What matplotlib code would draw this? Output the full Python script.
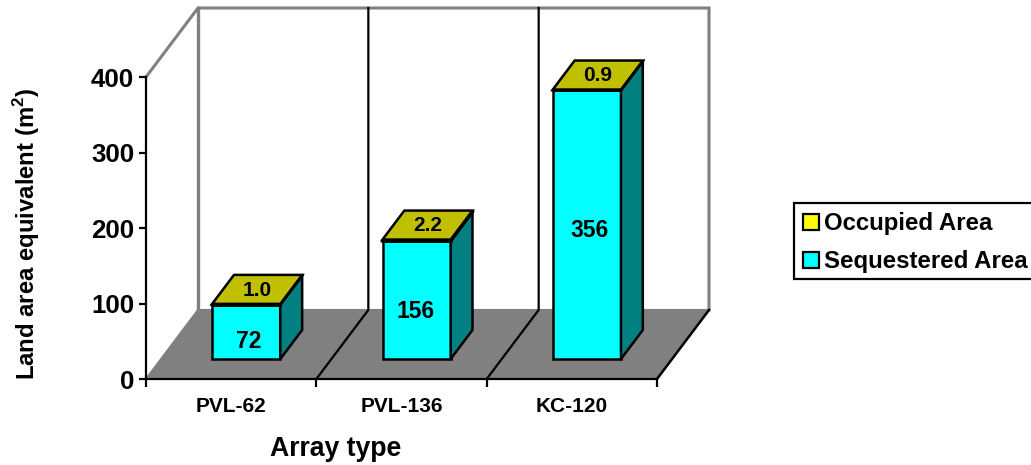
import matplotlib
matplotlib.use("Agg")
import matplotlib.pyplot as plt
from matplotlib.patches import Polygon, Patch, Rectangle

plt.rcParams['font.family'] = ['Liberation Sans', 'DejaVu Sans']
plt.rcParams['font.weight'] = 'bold'
plt.rcParams['mathtext.fontset'] = 'custom'
plt.rcParams['mathtext.bf'] = 'Liberation Sans:bold'
plt.rcParams['mathtext.rm'] = 'Liberation Sans:bold'

# Data
arrays = ['PVL-62', 'PVL-136', 'KC-120']
sequestered = [72, 156, 356]
occupied = [1.0, 2.2, 0.9]
yticks = [0, 100, 200, 300, 400]

# Oblique projection: one unit of depth moves this far in data units
DEPTH_X = 52 / 170.33
DEPTH_Y = 69 / (302 / 400)
BAR_W = 0.40
BAR_D0, BAR_D1 = 0.29, 0.71

GREY = '#808080'
CYAN, CYAN_SIDE = '#00FFFF', '#008080'
YELLOW, YELLOW_TOP, YELLOW_SIDE = '#FFFF00', '#C0C000', '#808000'


def proj(x, y, d):
    return (x + d * DEPTH_X, y + d * DEPTH_Y)


def face(ax, pts, fc, ec='black', lw=1.8, z=3):
    ax.add_patch(Polygon(pts, closed=True, fc=fc, ec=ec, lw=lw, zorder=z,
                         clip_on=False, joinstyle='miter'))


def box(ax, x0, x1, y0, y1, front, top, side, z):
    d0, d1 = BAR_D0, BAR_D1
    # the front corner sits at depth d0, so shift x by that depth via proj
    face(ax, [proj(x0, y0, d0), proj(x1, y0, d0), proj(x1, y1, d0), proj(x0, y1, d0)], front, z=z)
    face(ax, [proj(x1, y0, d0), proj(x1, y0, d1), proj(x1, y1, d1), proj(x1, y1, d0)], side, z=z)
    face(ax, [proj(x0, y1, d0), proj(x1, y1, d0), proj(x1, y1, d1), proj(x0, y1, d1)], top, z=z)


fig = plt.figure(figsize=(10.31, 4.65), dpi=100, facecolor='white')
ax = fig.add_axes([146 / 1031, (465 - 379) / 465, 511 / 1031, 302 / 465])
ax.set_xlim(0, 3)
ax.set_ylim(0, 400)
ax.patch.set_visible(False)

n = len(arrays)

# Floor and walls
face(ax, [proj(0, 0, 0), proj(n, 0, 0), proj(n, 0, 1), proj(0, 0, 1)], GREY, ec='none', z=1)
ax.plot(*zip(proj(0, 0, 0), proj(0, 0, 1), proj(n, 0, 1)), color=GREY, lw=1.5, zorder=1.5, clip_on=False)
ax.plot(*zip(proj(0, 400, 0), proj(0, 400, 1), proj(n, 400, 1), proj(n, 0, 1)),
        color=GREY, lw=2.2, zorder=1.5, clip_on=False, solid_joinstyle='miter')
ax.plot(*zip(proj(0, 0, 1), proj(0, 400, 1)), color=GREY, lw=2.4, zorder=1.5, clip_on=False)
ax.plot(*zip(proj(n, 0, 0), proj(n, 0, 1)), color='black', lw=1.8, zorder=1.6, clip_on=False)

# Category dividers on the floor and the back wall
for i in range(1, n):
    ax.plot(*zip(proj(i, 0, 0), proj(i, 0, 1), proj(i, 400, 1)), color='black', lw=1.6,
            zorder=1.6, clip_on=False, solid_joinstyle='miter')

# Bars, with the occupied area stacked as a thin layer on top
nudge = [(2, -9.5), (-1, -11.5), (3, -5.5)]
for i in range(n):
    x0, x1 = i + 0.5 - BAR_W / 2, i + 0.5 + BAR_W / 2
    s, o = sequestered[i], occupied[i]
    box(ax, x0, x1, 0, s, CYAN, YELLOW_TOP, CYAN_SIDE, 3)
    box(ax, x0, x1, s, s + o, YELLOW, YELLOW_TOP, YELLOW_SIDE, 4)

    ax.annotate(f'{s:d}', proj(i + 0.5, s / 2, BAR_D0), xytext=(nudge[i][0] * 0.72, nudge[i][1] * 0.72),
                textcoords='offset points', ha='center', va='center', fontsize=16.5,
                fontweight='bold', zorder=6, annotation_clip=False)
    ax.annotate(f'{o:.1f}', proj(i + 0.5, s + o, (BAR_D0 + BAR_D1) / 2), xytext=(0, -0.5),
                textcoords='offset points', ha='center', va='center', fontsize=15,
                fontweight='bold', zorder=6, annotation_clip=False)

# Axes
for side in ['top', 'right']:
    ax.spines[side].set_visible(False)
for side in ['left', 'bottom']:
    ax.spines[side].set_linewidth(1.6)
    ax.spines[side].set_zorder(2)

ax.set_yticks(yticks)
ax.tick_params(axis='y', length=5, width=1.6, pad=3.5, labelsize=18.6)
ax.set_xticks(range(n + 1))
ax.set_xticklabels([])
ax.set_xticks([i + 0.5 for i in range(n)], minor=True)
ax.set_xticklabels(arrays, minor=True, fontsize=15, fontweight='bold')
ax.tick_params(axis='x', which='major', length=5.5, width=1.6)
ax.tick_params(axis='x', which='minor', length=0, pad=13)
for lab in ax.get_yticklabels():
    lab.set_fontweight('bold')

ax.set_xlabel('Array type', fontsize=19.2, fontweight='bold')
ax.xaxis.set_label_coords((336 - 146) / 511, -70 / 302, transform=ax.transAxes)
ax.xaxis.label.set_verticalalignment('center')
ax.set_ylabel(r'Land area equivalent (m$^{\mathbf{2}}$)', fontsize=17.2, fontweight='bold')
ax.yaxis.set_label_coords(-119 / 511, (379 - 234) / 302, transform=ax.transAxes)
ax.yaxis.label.set_verticalalignment('center')

# Legend box runs off the right edge of the figure, so its frame is drawn apart
fig.add_artist(Rectangle((794 / 1031, (465 - 278.5) / 465), 260 / 1031, 75.5 / 465,
                         transform=fig.transFigure, fc='white', ec='black', lw=1.6))
handles = [Patch(fc=YELLOW, ec='black', lw=1.6, label='Occupied Area'),
           Patch(fc=CYAN, ec='black', lw=1.6, label='Sequestered Area')]
leg = fig.legend(handles=handles, loc='upper left', bbox_to_anchor=(796 / 1031, (465 - 205) / 465),
                 bbox_transform=fig.transFigure, fontsize=17.3, frameon=False,
                 borderpad=0.3, borderaxespad=0, handlelength=0.65,
                 handleheight=0.65, handletextpad=0.2, labelspacing=0.62)
leg.set_zorder(5)

fig.savefig('out.png', dpi=100)
